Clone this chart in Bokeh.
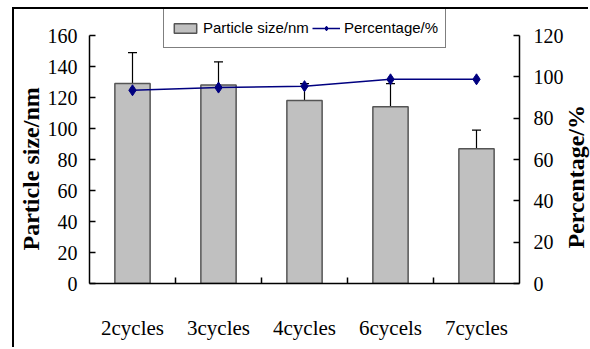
import numpy as np
from bokeh.plotting import figure
from bokeh.models import (ColumnDataSource, Range1d, LinearAxis, FixedTicker, Whisker,
                          TeeHead, Legend, LegendItem, Title)
from bokeh.embed import file_html
from bokeh.resources import INLINE

categories = ["2cycles", "3cycles", "4cycles", "6cycels", "7cycles"]
particle_size = [129, 128, 118, 114, 87]
size_err = [20, 15, 11, 15, 12]
percentage = [93.5, 94.8, 95.5, 98.8, 98.8]
size_ticks = list(range(0, 161, 20))
pct_ticks = list(range(0, 121, 20))
left_title = "Particle size/nm"
right_title = "Percentage/%"

x = np.arange(len(categories)) + 0.5
src = ColumnDataSource(dict(
    x=x, size=particle_size, pct=percentage,
    upper=[s + e for s, e in zip(particle_size, size_err)],
    lower=[s - e for s, e in zip(particle_size, size_err)],
))

SERIF = "Liberation Serif"
# frame extends above the top tick so the legend fits inside it
head = 274 / 248

p = figure(width=576, height=340, output_backend="svg", toolbar_location=None,
           x_range=Range1d(0, len(categories)), y_range=Range1d(0, 160 * head),
           min_border_left=75, min_border_right=71, min_border_top=0, min_border_bottom=66,
           x_axis_location=None, y_axis_location=None)
p.styles = {"border-top": "2px solid black", "border-left": "2px solid black",
            "margin-left": "12px", "margin-top": "7px"}
p.outline_line_color = None
p.xgrid.visible = False
p.ygrid.visible = False
p.extra_y_ranges = {"pct": Range1d(0, 120 * head)}

bars = p.vbar(x="x", top="size", width=0.41, source=src,
              fill_color="#C0C0C0", line_color="#555555", line_width=1.5)
err = Whisker(source=src, base="x", upper="upper", lower="lower", dimension="height",
              line_color="black", line_width=1.2,
              upper_head=TeeHead(size=9, line_color="black", line_width=1.2),
              lower_head=TeeHead(size=9, line_color="black", line_width=1.2))
p.add_layout(err)
ln = p.line(x="x", y="pct", source=src, y_range_name="pct", line_color="#000080", line_width=1.5)
mk = p.scatter(x="x", y="pct", source=src, y_range_name="pct", marker="diamond",
               size=11, fill_color="#000080", line_color="#000080")

# axes
xax = LinearAxis(ticker=FixedTicker(ticks=list(x), minor_ticks=list(range(1, len(categories)))),
                 major_label_overrides={float(v): c for v, c in zip(x, categories)})
xax.major_tick_in = 0
xax.major_tick_out = 0
xax.minor_tick_in = 6
xax.minor_tick_out = 0
xax.major_label_standoff = 32
p.add_layout(xax, "below")

yl = LinearAxis(ticker=FixedTicker(ticks=size_ticks), bounds=(0, 160))
p.add_layout(yl, "left")
yr = LinearAxis(y_range_name="pct", ticker=FixedTicker(ticks=pct_ticks), bounds=(0, 120))
p.add_layout(yr, "right")

for ax in (xax, yl, yr):
    ax.axis_line_color = "black"
    ax.axis_line_width = 1.5
    ax.major_tick_line_color = "black"
    ax.minor_tick_line_color = "black"
    ax.major_tick_line_width = 1.5
    ax.minor_tick_line_width = 1.5
    ax.major_label_text_font = SERIF
    ax.major_label_text_font_size = "20px"
    ax.major_label_text_color = "black"
xax.major_label_text_font_size = "21px"

for ax in (yl, yr):
    ax.major_tick_in = 6
    ax.major_tick_out = 0
    ax.minor_tick_in = 0
    ax.minor_tick_out = 0
yl.major_label_standoff = 12
yr.major_label_standoff = 14

title_kw = dict(text_font=SERIF, text_font_size="24px", text_font_style="bold",
                text_color="black", align="left", vertical_align="middle", standoff=0)
p.add_layout(Title(text=left_title, offset=33, **title_kw), "left")

legend = Legend(items=[LegendItem(label="Particle size/nm", renderers=[bars]),
                       LegendItem(label="Percentage/%", renderers=[ln, mk])],
                orientation="horizontal", location=(74, 235))
legend.label_text_font = "Liberation Sans"
legend.label_text_font_size = "15px"
legend.label_text_color = "black"
legend.border_line_color = "black"
legend.border_line_width = 1
legend.padding = 7
legend.margin = 0
legend.spacing = 3
legend.glyph_width = 28
legend.glyph_height = 12
legend.label_standoff = 4
legend.label_height = 25
p.add_layout(legend, "center")

# transparent overlay that carries the right-hand title (reads bottom to top)
q = figure(width=30, height=340, output_backend="svg", toolbar_location=None,
           x_axis_location=None, y_axis_location=None,
           min_border_left=0, min_border_right=0, min_border_top=0, min_border_bottom=66)
q.styles = {"position": "absolute", "left": "561px", "top": "9px"}
q.outline_line_color = None
q.background_fill_color = None
q.border_fill_color = None
q.grid.visible = False
q.add_layout(Title(text=right_title, offset=35, **title_kw), "left")

open("out.html", "w").write(file_html([p, q], INLINE))
